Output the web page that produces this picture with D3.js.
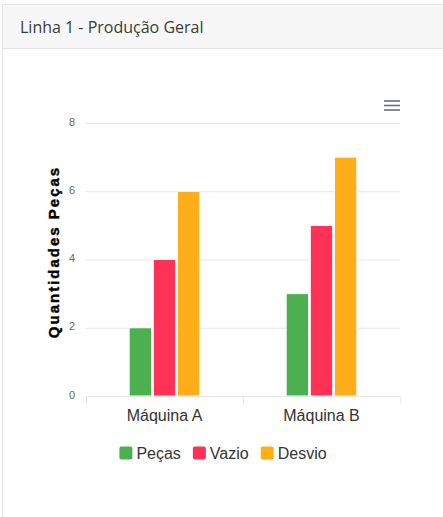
<!DOCTYPE html>
<html>
<head>
<meta charset="utf-8">
<script src="https://cdn.jsdelivr.net/npm/d3@7"></script>
<style>
  html, body { margin: 0; padding: 0; background: #fff; }
  svg { display: block; }
</style>
</head>
<body>
<div id="chart"></div>
<script>
const cardTitle = "Linha 1 - Produção Geral";
const categories = ["Máquina A", "Máquina B"];
const seriesNames = ["Peças", "Vazio", "Desvio"];
const seriesColors = ["#4caf50", "#fd3256", "#ffae19"];
const pecas = [2, 3];
const vazio = [4, 5];
const desvio = [6, 7];
const yTicks = [0, 2, 4, 6, 8];
const yTitle = "Quantidades Peças";

const seriesValues = [pecas, vazio, desvio];
const W = 443, H = 517;

const svg = d3.select("#chart").append("svg").attr("width", W).attr("height", H);

// card
svg.append("rect").attr("x", 2.5).attr("y", 4.5).attr("width", W + 10).attr("height", H + 10)
  .attr("fill", "#fff").attr("stroke", "#e3e3e3");
svg.append("rect").attr("x", 3).attr("y", 5).attr("width", W).attr("height", 43)
  .attr("fill", "#f7f7f7");
svg.append("line").attr("x1", 3).attr("x2", W).attr("y1", 48.5).attr("y2", 48.5)
  .attr("stroke", "#e3e3e3");
svg.append("text").attr("x", 20).attr("y", 33)
  .attr("font-family", "'Open Sans', sans-serif").attr("font-size", 16)
  .attr("fill", "#3a3a3a").text(cardTitle);

const font = "'Liberation Sans', Arial, sans-serif";

const y = d3.scaleLinear().domain([0, 8]).range([396, 123]);
const x0 = d3.scaleBand().domain(categories).range([86, 400]).padding(0);
const bw = x0.bandwidth();
const x1 = d3.scaleBand().domain(seriesNames).range([bw * 0.275, bw * 0.725]).paddingInner(0.07);

// gridlines
const yAxis = d3.axisLeft(y).tickValues(yTicks).tickSize(-(400 - 86)).tickPadding(12);
const gy = svg.append("g").attr("transform", "translate(86,0)").call(yAxis);
gy.select(".domain").remove();
gy.selectAll(".tick line").attr("stroke", "#e6e6e6");
gy.selectAll(".tick text").attr("font-family", font).attr("font-size", 11)
  .attr("fill", "#666").attr("text-anchor", "middle").attr("dx", 0).attr("x", -14).attr("dy", "0.2em");

// bars
const gBars = svg.append("g");
seriesNames.forEach((s, si) => {
  gBars.selectAll(null).data(categories).enter().append("rect")
    .attr("x", c => x0(c) + x1(s))
    .attr("y", (c, i) => y(seriesValues[si][i]))
    .attr("width", x1.bandwidth())
    .attr("height", (c, i) => y(0) - y(seriesValues[si][i]))
    .attr("fill", seriesColors[si])
    .attr("stroke", "#fff").attr("stroke-width", 1);
});

// x axis
const xAxis = d3.axisBottom(x0).tickSize(0).tickPadding(12);
const gx = svg.append("g").attr("transform", "translate(0,396.5)").call(xAxis);
gx.select(".domain").attr("stroke", "#e6e6e6").attr("d", "M86,0H400");
gx.selectAll(".tick text").attr("font-family", font).attr("font-size", 16).attr("fill", "#333").attr("dy", "0.75em");
const edges = [86, 86 + bw, 400];
gx.selectAll(".edge").data(edges).enter().append("line")
  .attr("x1", d => Math.round(d) + 0.5).attr("x2", d => Math.round(d) + 0.5)
  .attr("y1", 0).attr("y2", 7).attr("stroke", "#e6e6e6");

// y title
svg.append("text")
  .attr("transform", "translate(59,252) rotate(-90)")
  .attr("text-anchor", "middle")
  .attr("font-family", font).attr("font-size", 15).attr("font-weight", "bold")
  .attr("letter-spacing", 2).attr("fill", "#000")
  .attr("stroke", "#000").attr("stroke-width", 0.4).text(yTitle);

// menu icon
const gm = svg.append("g");
[101, 105.5, 110].forEach(yy => {
  gm.append("line").attr("x1", 384).attr("x2", 400).attr("y1", yy).attr("y2", yy)
    .attr("stroke", "#666f80").attr("stroke-width", 1.6);
});

// legend
const gl = svg.append("g");
const items = gl.selectAll("g").data(seriesNames).enter().append("g");
items.append("rect").attr("width", 13).attr("height", 13).attr("rx", 2).attr("y", -6.5)
  .attr("fill", (d, i) => seriesColors[i]);
items.append("text").attr("x", 17).attr("dy", "0.36em")
  .attr("font-family", font).attr("font-size", 16).attr("fill", "#333").text(d => d);
let cx = 0;
const offs = [];
items.each(function () {
  offs.push(cx);
  const tw = d3.select(this).select("text").node().getComputedTextLength();
  cx += 17 + tw + 12;
});
const total = cx - 12;
const startX = 223 - total / 2;
items.attr("transform", (d, i) => `translate(${startX + offs[i]},453)`);
</script>
</body>
</html>
